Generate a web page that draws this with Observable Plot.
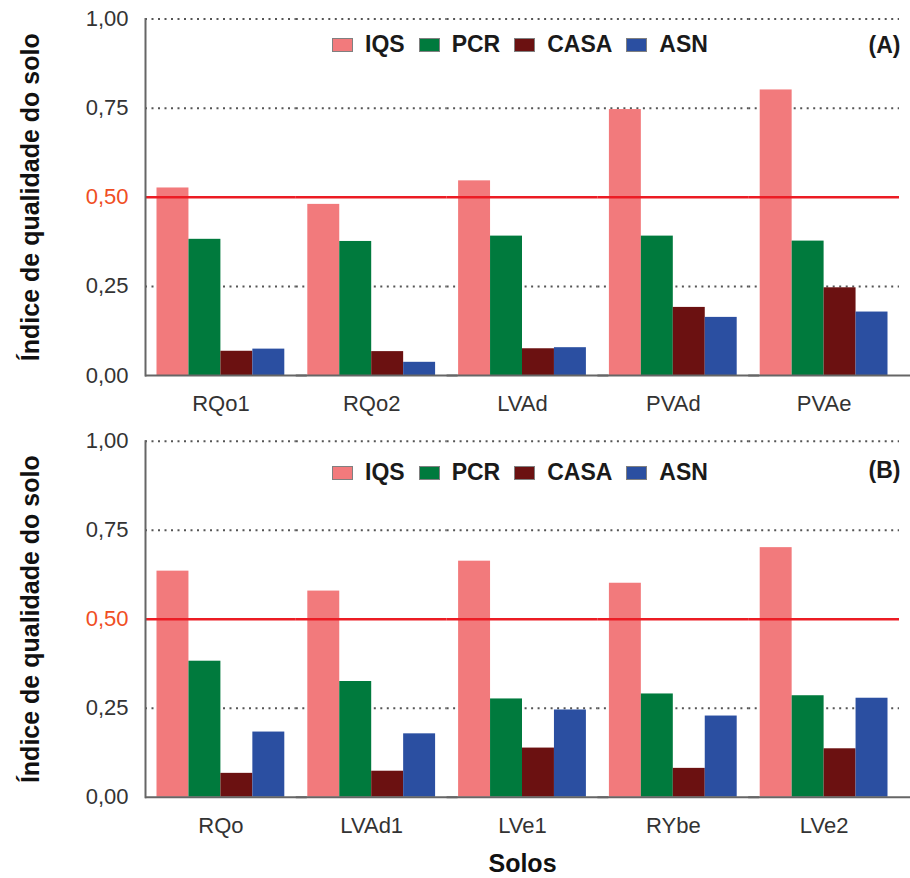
<!DOCTYPE html>
<html><head><meta charset="utf-8">
<script src="https://cdn.jsdelivr.net/npm/d3@7"></script>
<script src="https://cdn.jsdelivr.net/npm/@observablehq/plot@0.6"></script>
<style>
body{margin:0;background:#fff;font-family:"Liberation Sans",Arial,sans-serif;}
#wrap{position:relative;width:910px;height:878px;overflow:hidden;}
.panel{position:relative;width:910px;}
.legend{position:absolute;display:flex;align-items:center;font-weight:bold;font-size:23px;color:#1a1a1a;line-height:1;}
.sw{width:19px;height:12px;border:1px solid #808080;margin-right:12px;}
.item{display:flex;align-items:center;margin-right:14px;}
</style></head><body><div id="wrap"></div>
<script>
const series = ["IQS","PCR","CASA","ASN"];
const colors = ["#f27a7c","#007a3d","#6b1111","#2b4fa1"];

const soilsA = ["RQo1","RQo2","LVAd","PVAd","PVAe"];
const iqsA  = [0.526,0.480,0.546,0.746,0.801];
const pcrA  = [0.382,0.376,0.391,0.391,0.377];
const casaA = [0.068,0.067,0.075,0.191,0.246];
const asnA  = [0.074,0.037,0.078,0.163,0.178];

const soilsB = ["RQo","LVAd1","LVe1","RYbe","LVe2"];
const iqsB  = [0.635,0.579,0.663,0.601,0.701];
const pcrB  = [0.382,0.325,0.276,0.290,0.285];
const casaB = [0.067,0.073,0.138,0.081,0.136];
const asnB  = [0.183,0.178,0.245,0.228,0.278];

const yTicks = [0,0.25,0.5,0.75,1];
const gridTicks = [0.25,0.75,1];
const threshold = 0.5;
const yLabel = "Índice de qualidade do solo";
const xLabel = "Solos";

const fmt = v => d3.format(".2f")(v).replace(".", ",");

function makePanel({soils, vals, tag, height, marginTop, marginBottom, tagDy, showX, legendTop}) {
  const data = soils.flatMap((s, i) => series.map((k, j) => ({soil: s, series: k, value: vals[j][i]})));
  const marks = [
    Plot.ruleY(gridTicks, {stroke: "#555", strokeWidth: 2, strokeDasharray: "2,4.5"}),
    Plot.barY(data, {fx: "soil", x: "series", y: "value", fill: "series"}),
    Plot.ruleY([threshold], {stroke: "#ec1c24", strokeWidth: 2.5}),
    Plot.ruleY([0], {stroke: "#666", strokeWidth: 2, insetRight: -11}),
    Plot.frame({anchor: "left", facetAnchor: "left", stroke: "#666", strokeWidth: 2}),
    Plot.axisY(yTicks.filter(v => v !== threshold), {tickSize: 0, tickPadding: 17, tickFormat: fmt, fontSize: 22, fill: "#333", label: null}),
    Plot.axisY([threshold], {tickSize: 0, tickPadding: 17, tickFormat: fmt, fontSize: 22, fill: "#f04e23", label: null}),
    Plot.axisY({ticks: [], tickSize: 0, label: yLabel, labelAnchor: "center", labelArrow: "none", labelOffset: 124, fontSize: 25, fontWeight: "bold", fill: "#111"}),
    Plot.axisFx({anchor: "bottom", tickSize: 0, tickPadding: 20, fontSize: 22, fill: "#333", label: null}),
    Plot.text([tag], {text: d => d, frameAnchor: "top-right", facetAnchor: "right", textAnchor: "end", lineAnchor: "middle", dx: 1, dy: tagDy, fontSize: 23, fontWeight: "bold", fill: "#1a1a1a"})
  ];
  if (showX) marks.push(Plot.axisFx({anchor: "bottom", ticks: [], tickSize: 0, label: xLabel, labelAnchor: "center", labelArrow: "none", labelOffset: 75, fontSize: 25, fontWeight: "bold", fill: "#111"}));
  const svg = Plot.plot({
    width: 910, height, marginTop, marginBottom, marginLeft: 145, marginRight: 11,
    style: {fontFamily: "Liberation Sans, Arial, sans-serif", fontSize: "22px", background: "transparent"},
    fx: {domain: soils, padding: 0, round: false},
    x: {domain: series, paddingInner: 0, paddingOuter: 0.36, round: false, axis: null},
    y: {domain: [0, 1]},
    color: {domain: series, range: colors},
    marks
  });
  const div = document.createElement("div");
  div.className = "panel";
  div.style.height = height + "px";
  div.appendChild(svg);
  const leg = document.createElement("div");
  leg.className = "legend";
  leg.style.left = "332px";
  leg.style.top = legendTop + "px";
  series.forEach((k, j) => {
    const it = document.createElement("div");
    it.className = "item";
    const sw = document.createElement("div");
    sw.className = "sw";
    sw.style.background = colors[j];
    const t = document.createElement("span");
    t.textContent = k;
    it.appendChild(sw); it.appendChild(t);
    leg.appendChild(it);
  });
  div.appendChild(leg);
  return div;
}

const wrap = document.getElementById("wrap");
wrap.appendChild(makePanel({soils: soilsA, vals: [iqsA, pcrA, casaA, asnA], tag: "(A)", height: 420, marginTop: 18.5, marginBottom: 45, tagDy: 26.5, showX: false, legendTop: 33}));
wrap.appendChild(makePanel({soils: soilsB, vals: [iqsB, pcrB, casaB, asnB], tag: "(B)", height: 458, marginTop: 20.7, marginBottom: 81.3, tagDy: 29.3, showX: true, legendTop: 41}));
</script></body></html>
